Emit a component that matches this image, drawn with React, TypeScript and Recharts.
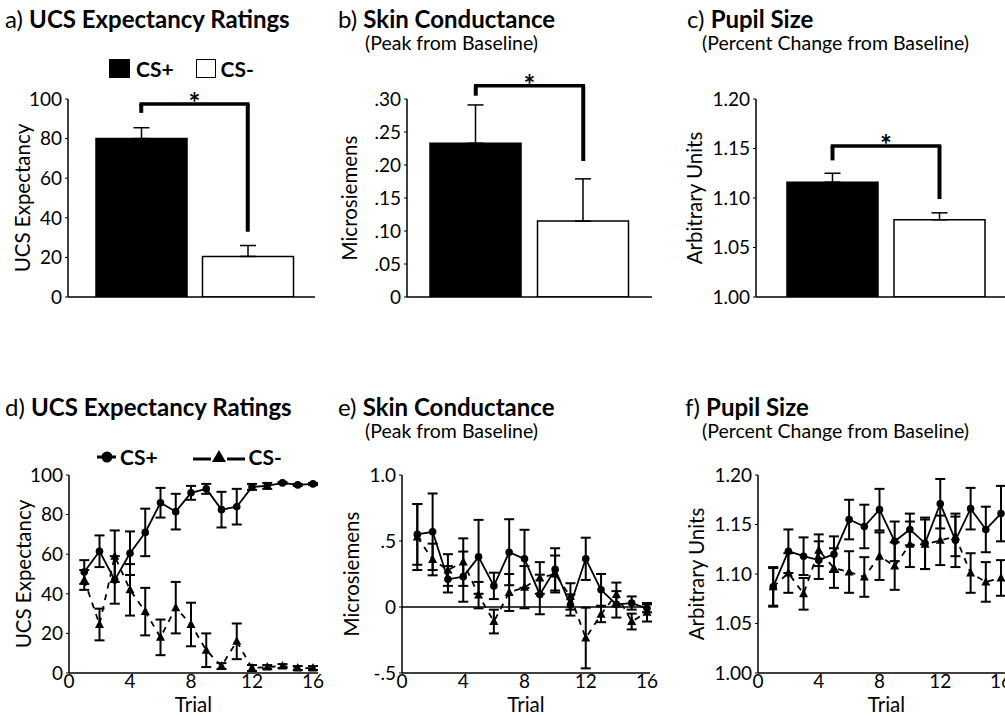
import React from 'react';
import {
  BarChart, Bar, Cell, LineChart, Line, XAxis, YAxis, ErrorBar, ReferenceLine,
} from 'recharts';

// bar panels (a-c)
const barLabels = ['CS+', 'CS-'];
const ucsMeans = [80, 20.5];
const ucsErr = [5.5, 5.5];
const scMeans = [0.233, 0.115];
const scErr = [0.058, 0.064];
const pupilMeans = [1.116, 1.078];
const pupilErr = [0.009, 0.007];

// bracket heights: [top, left leg end, right leg end]
const ucsBracket = [97.5, 93, 33];
const scBracket = [0.32, 0.305, 0.206];
const pupilBracket = [1.1525, 1.138, 1.099];

// trial panels (d-f)
const trials = [1, 2, 3, 4, 5, 6, 7, 8, 9, 10, 11, 12, 13, 14, 15, 16];
const expPlus = [51, 61.5, 47, 60.5, 71, 86, 81.5, 91, 93, 82.5, 84, 94, 94.5, 96, 95, 95.5];
const expPlusErr = [6, 8, 12, 11, 12, 7.5, 9, 3.5, 2.5, 9, 9, 1.5, 1.5, 0.5, 0.5, 0.5];
const expMinus = [47, 24.5, 59, 42, 31, 18, 33, 24.5, 11.5, 3.5, 16, 2.5, 3, 3.5, 2.5, 2.5];
const expMinusErr = [5, 8, 13, 13, 12, 9, 13, 11, 8.5, 1.5, 9, 1.5, 1, 1, 1, 1];

const scrPlus = [0.55, 0.57, 0.21, 0.23, 0.38, 0.16, 0.415, 0.365, 0.095, 0.285, 0.015, 0.365, 0.13, 0.02, 0.03, -0.01];
const scrPlusErr = [0.23, 0.29, 0.1, 0.19, 0.28, 0.1, 0.25, 0.22, 0.15, 0.16, 0.08, 0.16, 0.12, 0.1, 0.05, 0.03];
const scrMinus = [0.53, 0.36, 0.28, 0.34, 0.09, -0.11, 0.11, 0.15, 0.22, 0.25, 0.08, -0.235, -0.055, 0.095, -0.11, -0.04];
const scrMinusErr = [0.25, 0.12, 0.12, 0.18, 0.1, 0.09, 0.14, 0.16, 0.12, 0.14, 0.1, 0.23, 0.06, 0.09, 0.06, 0.07];

const pupPlus = [1.087, 1.123, 1.118, 1.114, 1.12, 1.155, 1.148, 1.165, 1.133, 1.145, 1.131, 1.171, 1.134, 1.166, 1.145, 1.161];
const pupPlusErr = [0.019, 0.022, 0.019, 0.019, 0.018, 0.02, 0.022, 0.021, 0.02, 0.016, 0.026, 0.025, 0.027, 0.021, 0.023, 0.028];
const pupMinus = [1.087, 1.101, 1.08, 1.124, 1.106, 1.102, 1.097, 1.118, 1.108, 1.13, 1.13, 1.134, 1.138, 1.101, 1.092, 1.096];
const pupMinusErr = [0.02, 0.02, 0.016, 0.016, 0.02, 0.021, 0.02, 0.024, 0.024, 0.023, 0.025, 0.025, 0.02, 0.02, 0.02, 0.018];

const FONT = 'Lato, sans-serif';
const tickStyle = { fontSize: 19, fill: '#000' };
const axisLabelSize = 20.5;

const fmtDot = (v: number) => (v === 0 ? '0' : v.toFixed(2).replace(/^0/, ''));
const fmtScr = (v: number) => (v === 0 ? '0' : v === 1 ? '1.0' : String(v).replace(/^(-?)0/, '$1'));
const fmt2 = (v: number) => v.toFixed(2);

function barRows(means: number[], errs: number[]) {
  return barLabels.map((name, i) => ({ name, value: means[i], err: [0, errs[i]] }));
}

function lineRows(plus: number[], plusErr: number[], minus: number[], minusErr: number[]) {
  return trials.map((t, i) => ({
    trial: t, plus: plus[i], plusErr: plusErr[i], minus: minus[i], minusErr: minusErr[i],
  }));
}

const Title = ({ left, top, tag, text, sub, subLeft }: any) => (
  <>
    <div style={{ position: 'absolute', left, top, fontSize: 24, lineHeight: '24px', whiteSpace: 'nowrap' }}>
      {tag} <b>{text}</b>
    </div>
    {sub && (
      <div style={{ position: 'absolute', left: subLeft, top: top + 26, fontSize: 19.5, lineHeight: '19px', whiteSpace: 'nowrap' }}>
        {sub}
      </div>
    )}
  </>
);

const TriangleDot = (props: any) => {
  const { cx, cy, index } = props;
  if (cx == null || cy == null) return <g key={`t-${index}`} />;
  return <path key={`t-${index}`} d={`M${cx},${cy - 5} L${cx + 4.5},${cy + 3.5} L${cx - 4.5},${cy + 3.5} Z`} fill="#000" />;
};

function BarPanel({ left, yw, width, marginRight, rows, domain, ticks, fmt, label, labelOffset, padding, bracket }: any) {
  return (
    <div style={{ position: 'absolute', left, top: 60 }}>
      <BarChart width={width} height={250} data={rows} margin={{ top: 39, right: marginRight, bottom: 0, left: 0 }}>
        <XAxis dataKey="name" tick={false} tickLine={false} height={13} padding={padding}
          axisLine={{ stroke: '#000', strokeWidth: 1.5 }} />
        <YAxis width={yw} domain={domain} ticks={ticks} tickFormatter={fmt} interval={0}
          tick={tickStyle} tickSize={3} tickMargin={3} allowDataOverflow
          axisLine={{ stroke: '#000', strokeWidth: 1.5 }} tickLine={{ stroke: '#000' }}
          label={{ value: label, angle: -90, position: 'insideLeft', offset: labelOffset, fontSize: axisLabelSize, fill: '#000', style: { textAnchor: 'middle' } }} />
        <Bar dataKey="value" barSize={91} isAnimationActive={false} stroke="#000" strokeWidth={1.5}>
          {rows.map((r: any, i: number) => (
            <Cell key={r.name} fill={i === 0 ? '#000' : '#fff'} />
          ))}
          <ErrorBar dataKey="err" width={8} stroke="#000" strokeWidth={1.5} />
        </Bar>
        <ReferenceLine segment={[{ x: 'CS+', y: bracket[0] }, { x: 'CS-', y: bracket[0] }]} stroke="#000"
          strokeWidth={3.5} ifOverflow="visible" strokeLinecap="square"
          label={{ value: '*', position: 'top', offset: -9, fontSize: 28, fontWeight: 700, fill: '#000' }} />
        <ReferenceLine segment={[{ x: 'CS+', y: bracket[0] }, { x: 'CS+', y: bracket[1] }]} stroke="#000"
          strokeWidth={4} ifOverflow="visible" />
        <ReferenceLine segment={[{ x: 'CS-', y: bracket[0] }, { x: 'CS-', y: bracket[2] }]} stroke="#000"
          strokeWidth={4} ifOverflow="visible" />
      </BarChart>
    </div>
  );
}

function TrialPanel({ left, yw, width, marginRight, rows, domain, ticks, fmt, label, labelOffset, padRight, zeroLine }: any) {
  return (
    <div style={{ position: 'absolute', left, top: 455 }}>
      <LineChart width={width} height={262} data={rows} margin={{ top: 20, right: marginRight, bottom: 0, left: 0 }}>
        <XAxis dataKey="trial" type="number" domain={[0, 16]} ticks={[0, 4, 8, 12, 16]} interval={0}
          height={44} padding={{ left: 0, right: padRight }} tick={tickStyle} tickSize={0} tickMargin={2}
          axisLine={{ stroke: '#000', strokeWidth: 1.5 }}
          label={{ value: 'Trial', position: 'insideBottom', offset: 5, fontSize: axisLabelSize, fill: '#000' }} />
        <YAxis width={yw} domain={domain} ticks={ticks} tickFormatter={fmt} interval={0}
          tick={tickStyle} tickSize={3} tickMargin={3} allowDataOverflow
          axisLine={{ stroke: '#000', strokeWidth: 1.5 }} tickLine={{ stroke: '#000' }}
          label={{ value: label, angle: -90, position: 'insideLeft', offset: labelOffset, fontSize: axisLabelSize, fill: '#000', style: { textAnchor: 'middle' } }} />
        {zeroLine && <ReferenceLine y={0} stroke="#000" strokeWidth={1.5} />}
        <Line dataKey="minus" stroke="#000" strokeWidth={1.8} strokeDasharray="6 6" dot={TriangleDot}
          isAnimationActive={false}>
          <ErrorBar dataKey="minusErr" width={5} stroke="#000" strokeWidth={2} direction="y" />
        </Line>
        <Line dataKey="plus" stroke="#000" strokeWidth={1.8} dot={{ r: 3.8, fill: '#000', stroke: '#000', strokeWidth: 0 }}
          isAnimationActive={false}>
          <ErrorBar dataKey="plusErr" width={5} stroke="#000" strokeWidth={2} direction="y" />
        </Line>
      </LineChart>
    </div>
  );
}

const BarLegend = () => (
  <div style={{ position: 'absolute', left: 109, top: 56, display: 'flex', alignItems: 'center', fontSize: 21, fontWeight: 700 }}>
    <span style={{ width: 21, height: 19, background: '#000', display: 'inline-block' }} />
    <span style={{ marginLeft: 6 }}>CS+</span>
    <span style={{ width: 18, height: 17, border: '1.5px solid #000', display: 'inline-block', marginLeft: 22 }} />
    <span style={{ marginLeft: 5 }}>CS-</span>
  </div>
);

const LineLegend = () => (
  <div style={{ position: 'absolute', left: 97, top: 444, display: 'flex', alignItems: 'center', fontSize: 21, fontWeight: 700 }}>
    <svg width={19} height={20}>
      <line x1={0} y1={10} x2={19} y2={10} stroke="#000" strokeWidth={3} />
      <circle cx={10} cy={10} r={5.5} fill="#000" />
    </svg>
    <span style={{ marginLeft: 4 }}>CS+</span>
    <svg width={52} height={20} style={{ marginLeft: 35 }}>
      <line x1={0} y1={12} x2={18} y2={12} stroke="#000" strokeWidth={3} />
      <line x1={34} y1={12} x2={52} y2={12} stroke="#000" strokeWidth={3} />
      <path d="M26,3 L33,15 L19,15 Z" fill="#000" />
    </svg>
    <span style={{ marginLeft: 4 }}>CS-</span>
  </div>
);

export default function App() {
  return (
    <div style={{ position: 'absolute', left: 0, top: 0, width: 1005, height: 715, overflow: 'hidden', background: '#fff', fontFamily: FONT, color: '#000' }}>
      <Title left={5} top={7} tag="a)" text="UCS Expectancy Ratings" />
      <Title left={338} top={7} tag="b)" text="Skin Conductance" sub="(Peak from Baseline)" subLeft={365} />
      <Title left={687} top={7} tag="c)" text="Pupil Size" sub="(Percent Change from Baseline)" subLeft={702} />
      <Title left={5} top={395} tag="d)" text="UCS Expectancy Ratings" />
      <Title left={338} top={395} tag="e)" text="Skin Conductance" sub="(Peak from Baseline)" subLeft={365} />
      <Title left={685} top={395} tag="f)" text="Pupil Size" sub="(Percent Change from Baseline)" subLeft={702} />
      <BarLegend />
      <LineLegend />

      <BarPanel left={0} yw={68} width={320} marginRight={5} rows={barRows(ucsMeans, ucsErr)}
        domain={[0, 100]} ticks={[0, 20, 40, 60, 80, 100]} fmt={(v: number) => String(v)}
        label="UCS Expectancy" labelOffset={23} padding={{ left: 20, right: 14 }} bracket={ucsBracket} />
      <BarPanel left={330} yw={77} width={330} marginRight={8} rows={barRows(scMeans, scErr)}
        domain={[0, 0.3]} ticks={[0, 0.05, 0.1, 0.15, 0.2, 0.25, 0.3]} fmt={fmtDot}
        label="Microsiemens" labelOffset={20} padding={{ left: 15, right: 15 }} bracket={scBracket} />
      <BarPanel left={670} yw={86} width={345} marginRight={5} rows={barRows(pupilMeans, pupilErr)}
        domain={[1, 1.2]} ticks={[1, 1.05, 1.1, 1.15, 1.2]} fmt={fmt2}
        label="Arbitrary Units" labelOffset={25} padding={{ left: 23, right: 17 }} bracket={pupilBracket} />

      <TrialPanel left={0} yw={69} width={332} marginRight={14} rows={lineRows(expPlus, expPlusErr, expMinus, expMinusErr)}
        domain={[0, 100]} ticks={[0, 20, 40, 60, 80, 100]} fmt={(v: number) => String(v)}
        label="UCS Expectancy" labelOffset={24} padRight={5} />
      <TrialPanel left={330} yw={72} width={340} marginRight={20} rows={lineRows(scrPlus, scrPlusErr, scrMinus, scrMinusErr)}
        domain={[-0.5, 1]} ticks={[-0.5, 0, 0.5, 1]} fmt={fmtScr}
        label="Microsiemens" labelOffset={22} padRight={3} zeroLine />
      <TrialPanel left={670} yw={88} width={345} marginRight={0} rows={lineRows(pupPlus, pupPlusErr, pupMinus, pupMinusErr)}
        domain={[1, 1.2]} ticks={[1, 1.05, 1.1, 1.15, 1.2]} fmt={fmt2}
        label="Arbitrary Units" labelOffset={27} padRight={14} />
    </div>
  );
}
